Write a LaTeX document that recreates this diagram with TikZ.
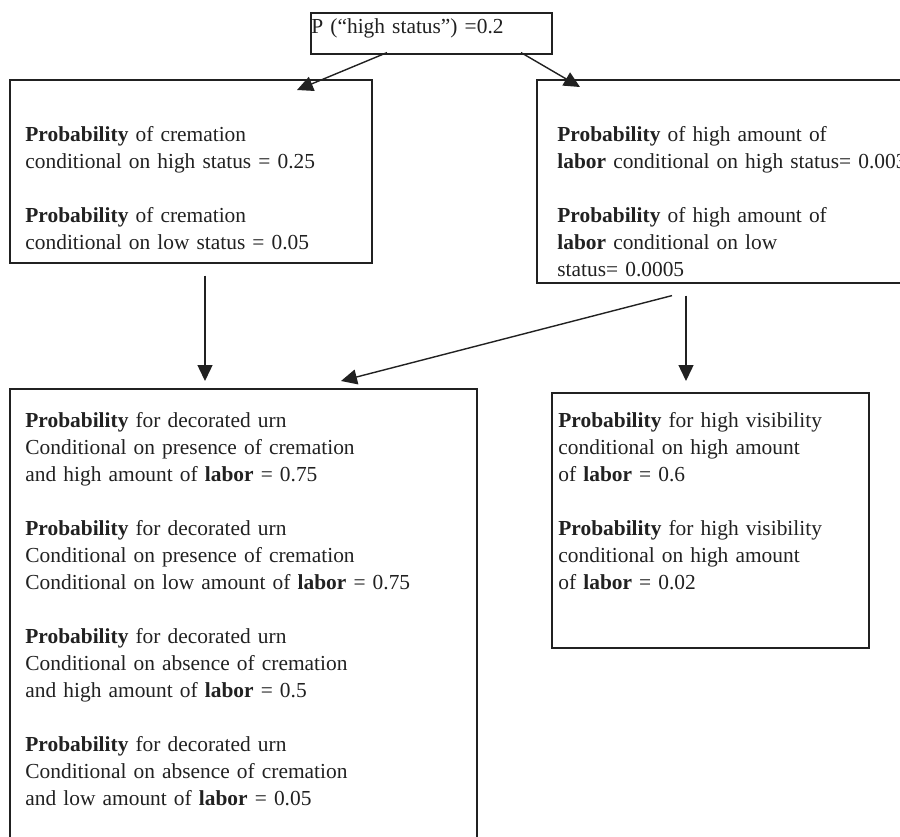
\documentclass[tikz,border=0pt]{standalone}
\usepackage{fontspec}
\setmainfont{Liberation Serif}
\usetikzlibrary{arrows.meta,calc}
\colorlet{ink}{black!87}
\begin{document}
\begin{tikzpicture}[x=0.5pt,y=-0.5pt,
  box/.style={draw=ink, line width=0.8pt, inner sep=0pt, anchor=north west},
  txt/.style={anchor=base west, inner sep=0pt, text width=260pt, align=left,
    text=ink, font=\fontsize{10.7}{13.5}\selectfont},
  link/.style={draw=ink, line width=0.7pt, -{Triangle[length=8pt,width=7.5pt]}}]
\useasboundingbox (0,0) rectangle (900,836);
\fill[white] (0,0) rectangle (900,836);

% root variable
\node[box, minimum width=120.5pt, minimum height=20.5pt] (status) at (310,12) {};
\node[txt] (statustxt) at (311,33) {P (“high status”) =0.2};

% cremation given status
\node[box, minimum width=181pt, minimum height=91.5pt] (crem) at (9,79) {};
\node[txt] (cremtxt) at (25,141) {\textbf{Probability} of cremation\\
  conditional on high status = 0.25\\[13.5pt]
  \textbf{Probability} of cremation\\
  conditional on low status = 0.05};

% labor given status (box runs past the right edge)
\node[box, minimum width=212pt, minimum height=101.5pt] (labor) at (536,79) {};
\node[txt] (labortxt) at (557,141) {\textbf{Probability} of high amount of\\
  \textbf{labor} conditional on high status= 0.003\\[13.5pt]
  \textbf{Probability} of high amount of\\
  \textbf{labor} conditional on low\\
  status= 0.0005};

% decorated urn given cremation and labor
\node[box, minimum width=233.5pt, minimum height=256pt] (urn) at (9,388) {};
\node[txt] (urntxt) at (25,427) {\textbf{Probability} for decorated urn\\
  Conditional on presence of cremation\\
  and high amount of \textbf{labor} = 0.75\\[13.5pt]
  \textbf{Probability} for decorated urn\\
  Conditional on presence of cremation\\
  Conditional on low amount of \textbf{labor} = 0.75\\[13.5pt]
  \textbf{Probability} for decorated urn\\
  Conditional on absence of cremation\\
  and high amount of \textbf{labor} = 0.5\\[13.5pt]
  \textbf{Probability} for decorated urn\\
  Conditional on absence of cremation\\
  and low amount of \textbf{labor} = 0.05};

% visibility given labor
\node[box, minimum width=158.5pt, minimum height=127.5pt] (vis) at (551,392) {};
\node[txt] (vistxt) at (558,427) {\textbf{Probability} for high visibility\\
  conditional on high amount\\
  of \textbf{labor} = 0.6\\[13.5pt]
  \textbf{Probability} for high visibility\\
  conditional on high amount\\
  of \textbf{labor} = 0.02};

% dependencies
\draw[link] ($(status.south west)+(77,-2)$) -- ($(crem.north west)+(288,11)$);
\draw[link] ($(status.south west)+(211,-2)$) -- ($(labor.north west)+(44,8)$);
\draw[link] ($(crem.south west)+(196,12)$) -- ($(urn.north west)+(196,-7)$);
\draw[link] ($(labor.south west)+(136,12)$) -- ($(urn.north west)+(332,-7)$);
\draw[link] ($(labor.south west)+(150,12)$) -- ($(vis.north west)+(135,-11)$);
\end{tikzpicture}
\end{document}
